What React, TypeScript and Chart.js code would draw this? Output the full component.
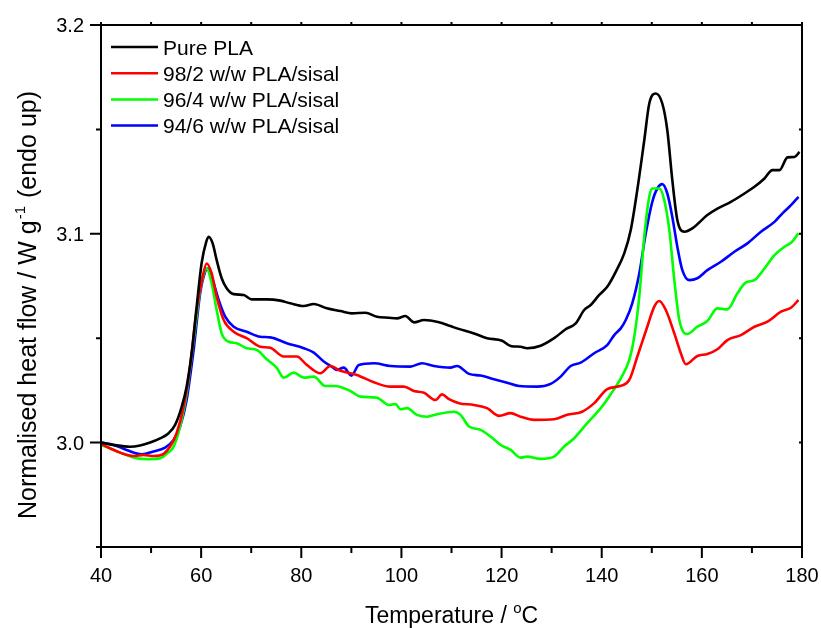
import React, { useEffect, useRef } from "react";
import { Chart, registerables } from "chart.js";

Chart.register(...registerables);

// ---- Data (Temperature in °C, normalised heat flow in W g^-1) ----
const pureT = [40, 42.5, 45.8, 47.8, 49.8, 51.8, 53.5, 54.8, 56.1, 57.1, 58.1, 59.1, 60.1, 61, 61.5, 62.3, 63.1, 64.1, 65.1, 66.5, 68.5, 70.1, 73.1, 75.8, 77.8, 80.5, 82.5, 85.1, 87.8, 90.1, 92.8, 95.1, 97.5, 99.1, 100.8, 102.5, 104.5, 107.5, 109.8, 111.1, 114.5, 117.1, 120.1, 121.8, 123.8, 125.1, 127.8, 130.5, 132.8, 134.8, 136.5, 137.8, 139.5, 141.1, 142.8, 144.5, 145.8, 147.1, 148.5, 149.5, 150.8, 152.1, 153.1, 154.1, 155.1, 156.5, 158.1, 161.1, 163.1, 165.8, 168.5, 170.5, 172.5, 174.1, 175.5, 177.1, 178.5, 179.5];
const pureV = [3.0, 2.9989, 2.998, 2.9986, 3.0, 3.002, 3.0045, 3.0085, 3.017, 3.0268, 3.0428, 3.065, 3.086, 3.096, 3.0986, 3.0954, 3.0874, 3.0787, 3.0739, 3.0711, 3.0707, 3.0686, 3.0686, 3.068, 3.0667, 3.0654, 3.0664, 3.0643, 3.063, 3.0619, 3.0622, 3.0603, 3.0598, 3.0595, 3.0606, 3.0576, 3.0587, 3.0576, 3.0558, 3.0547, 3.0523, 3.05, 3.0488, 3.0463, 3.0459, 3.0452, 3.0464, 3.05, 3.0543, 3.0571, 3.0635, 3.0659, 3.0707, 3.0746, 3.0818, 3.0906, 3.1018, 3.1209, 3.1448, 3.1624, 3.1672, 3.1624, 3.1496, 3.1257, 3.1066, 3.101, 3.1026, 3.109, 3.1121, 3.1153, 3.1193, 3.1225, 3.1265, 3.1305, 3.1305, 3.1366, 3.1368, 3.1392];

const pla2T = [40, 41.8, 43.8, 46.5, 48.5, 50.5, 52.5, 53.8, 55.1, 56.5, 57.8, 59.1, 60.3, 61.1, 62.1, 63.1, 64.5, 66.5, 69.1, 71.8, 73.8, 76.5, 79.1, 81.1, 83.8, 85.8, 87.8, 91.1, 94.5, 97.8, 100.5, 102.5, 104.5, 106.8, 108.1, 109.5, 111.5, 114.5, 117.1, 119.5, 121.8, 123.8, 126.5, 130.5, 133.1, 136.1, 138.5, 141.1, 143.8, 145.5, 147.1, 149.1, 150.5, 151.5, 152.8, 154.5, 155.8, 156.8, 159.1, 161.1, 163.1, 165.1, 167.8, 170.5, 173.1, 175.8, 177.8, 179.3];
const pla2V = [2.9994, 2.9973, 2.9952, 2.9936, 2.9941, 2.9936, 2.9946, 2.9981, 3.0045, 3.0172, 3.0364, 3.0635, 3.0794, 3.0858, 3.081, 3.0699, 3.0587, 3.0531, 3.05, 3.0459, 3.0454, 3.0412, 3.0412, 3.0372, 3.0332, 3.0367, 3.0344, 3.0324, 3.0289, 3.0268, 3.0268, 3.0247, 3.0239, 3.0204, 3.0231, 3.0208, 3.0189, 3.018, 3.0165, 3.0128, 3.0141, 3.0124, 3.0109, 3.0112, 3.0133, 3.0148, 3.0189, 3.0256, 3.0272, 3.03, 3.0411, 3.0555, 3.0651, 3.0678, 3.0635, 3.0523, 3.0428, 3.0375, 3.0415, 3.0424, 3.0447, 3.0491, 3.0515, 3.0555, 3.0579, 3.0627, 3.0646, 3.0683];

const pla4T = [40, 42.5, 45.1, 47.1, 49.8, 51.8, 53.1, 54.5, 55.8, 57.1, 58.5, 59.8, 60.8, 61.1, 62.1, 63.1, 64.1, 65.5, 67.1, 69.1, 71.1, 73.1, 75.1, 76.5, 78.5, 80.5, 82.5, 84.8, 86.8, 89.8, 91.8, 95.1, 97.5, 98.8, 99.8, 101.1, 103.1, 105.1, 107.1, 110.5, 111.8, 113.5, 115.8, 117.8, 119.8, 121.8, 123.8, 125.1, 127.8, 130.5, 132.5, 134.5, 137.1, 139.8, 141.8, 143.8, 145.5, 146.5, 147.5, 148.5, 149.5, 150.1, 151.5, 152.5, 153.5, 154.5, 155.5, 157.1, 159.1, 161.1, 163.1, 165.1, 167.1, 168.8, 170.5, 172.5, 174.5, 176.5, 177.8, 179.3];
const pla4V = [2.9989, 2.9965, 2.9941, 2.9925, 2.9921, 2.9925, 2.9946, 2.9981, 3.0077, 3.0236, 3.0491, 3.0731, 3.0826, 3.0834, 3.0763, 3.0635, 3.0523, 3.0483, 3.0476, 3.0452, 3.0444, 3.0399, 3.0358, 3.0311, 3.0335, 3.0311, 3.0316, 3.0271, 3.0271, 3.0247, 3.022, 3.0215, 3.018, 3.0185, 3.016, 3.0165, 3.0133, 3.0124, 3.0136, 3.0148, 3.0133, 3.0077, 3.0061, 3.0029, 2.9989, 2.9965, 2.9928, 2.9933, 2.9922, 2.9933, 2.9981, 3.0021, 3.0093, 3.0165, 3.0232, 3.0308, 3.0396, 3.0507, 3.0699, 3.0986, 3.1177, 3.1217, 3.1217, 3.1161, 3.1018, 3.0778, 3.0587, 3.052, 3.0555, 3.0582, 3.0643, 3.0638, 3.0715, 3.0767, 3.0778, 3.0834, 3.0898, 3.0938, 3.0957, 3.1002];

const pla6T = [40, 42.5, 45.1, 48.1, 50.5, 52.8, 54.5, 55.8, 57.1, 58.5, 59.8, 60.8, 61.3, 62.1, 63.5, 64.8, 66.5, 69.1, 71.8, 73.8, 77.1, 80.5, 82.5, 84.5, 86.1, 87.1, 88.5, 90, 91.5, 94.5, 97.8, 101.8, 104.1, 106.5, 109.8, 111.1, 113.5, 115.8, 118.5, 121.1, 123.5, 127.1, 129.8, 131.8, 133.8, 135.8, 138.5, 141.1, 142.5, 143.8, 144.8, 146.1, 147.5, 148.8, 150.1, 151.1, 152.1, 153.1, 154.1, 155.1, 156.1, 157.5, 159.1, 161.1, 163.8, 166.5, 169.1, 171.8, 174.5, 176.1, 177.8, 179.3];
const pla6V = [3.0, 2.9989, 2.9965, 2.9944, 2.9957, 2.9976, 3.0013, 3.0077, 3.0204, 3.0444, 3.0715, 3.0818, 3.0834, 3.0794, 3.0683, 3.0603, 3.0555, 3.0531, 3.0507, 3.0504, 3.0476, 3.0452, 3.0431, 3.0388, 3.0364, 3.0348, 3.0359, 3.0321, 3.0372, 3.038, 3.0367, 3.0364, 3.038, 3.0367, 3.0359, 3.0367, 3.0329, 3.0321, 3.0303, 3.0287, 3.0271, 3.0268, 3.0281, 3.0316, 3.0367, 3.0383, 3.0428, 3.0467, 3.0515, 3.0547, 3.0587, 3.0667, 3.081, 3.1002, 3.1153, 3.1217, 3.1238, 3.1193, 3.1081, 3.0938, 3.0826, 3.0778, 3.0787, 3.0826, 3.0866, 3.0914, 3.0954, 3.101, 3.1057, 3.1098, 3.1137, 3.1177];

const seriesLabels = ["Pure PLA", "98/2 w/w PLA/sisal", "96/4 w/w PLA/sisal", "94/6 w/w PLA/sisal"];
const seriesColors = ["#000000", "#ff0000", "#00ff00", "#0000ff"];

const xTickValues = [40, 60, 80, 100, 120, 140, 160, 180];
const xMinorValues = [50, 70, 90, 110, 130, 150, 170];
const yTickValues = [3.0, 3.1, 3.2];
const yTickLabels = ["3.0", "3.1", "3.2"];
const yMinorValues = [2.95, 3.05, 3.15];

const FONT = "'Liberation Sans', Arial, sans-serif";

function toPoints(t: number[], v: number[]) {
  return t.map((x, i) => ({ x, y: v[i] }));
}

const decorPlugin = {
  id: "decor",
  afterDraw(chart: any) {
    const ctx = chart.ctx as CanvasRenderingContext2D;
    const { left, right, top, bottom } = chart.chartArea;
    const xs = chart.scales.x;
    const ys = chart.scales.y;
    ctx.save();
    ctx.strokeStyle = "#000";
    ctx.fillStyle = "#000";
    ctx.lineWidth = 2;
    ctx.lineCap = "butt";
    // frame
    ctx.beginPath();
    ctx.moveTo(left, top - 1);
    ctx.lineTo(left, bottom + 1);
    ctx.moveTo(left - 1, bottom);
    ctx.lineTo(right + 1, bottom);
    ctx.moveTo(left - 1, top);
    ctx.lineTo(right + 1, top);
    ctx.moveTo(right, top - 1);
    ctx.lineTo(right, bottom + 1);
    ctx.stroke();

    // ticks
    ctx.beginPath();
    xTickValues.forEach((v) => {
      const px = xs.getPixelForValue(v);
      ctx.moveTo(px, bottom);
      ctx.lineTo(px, bottom + 11);
      ctx.moveTo(px, top);
      ctx.lineTo(px, top - 3);
    });
    xMinorValues.forEach((v) => {
      const px = xs.getPixelForValue(v);
      ctx.moveTo(px, bottom);
      ctx.lineTo(px, bottom + 6);
      ctx.moveTo(px, top);
      ctx.lineTo(px, top - 3);
    });
    yTickValues.forEach((v) => {
      const py = ys.getPixelForValue(v);
      ctx.moveTo(left, py);
      ctx.lineTo(left - 11, py);
      ctx.moveTo(right, py);
      ctx.lineTo(right - 3, py);
    });
    yMinorValues.forEach((v) => {
      const py = ys.getPixelForValue(v);
      ctx.moveTo(left, py);
      ctx.lineTo(left - 5, py);
      ctx.moveTo(right, py);
      ctx.lineTo(right - 3, py);
    });
    ctx.stroke();

    // tick labels
    ctx.font = `20px ${FONT}`;
    ctx.textBaseline = "alphabetic";
    ctx.textAlign = "center";
    xTickValues.forEach((v) => {
      ctx.fillText(String(v), xs.getPixelForValue(v), 582);
    });
    ctx.textAlign = "right";
    yTickValues.forEach((v, i) => {
      ctx.fillText(yTickLabels[i], 84, ys.getPixelForValue(v) + 7.2);
    });

    // x title with superscript
    ctx.textAlign = "left";
    const xMain = "Temperature / ";
    const xSup = "o";
    const xEnd = "C";
    ctx.font = `23px ${FONT}`;
    const w1 = ctx.measureText(xMain).width;
    const w3 = ctx.measureText(xEnd).width;
    ctx.font = `15px ${FONT}`;
    const w2 = ctx.measureText(xSup).width;
    const xTot = w1 + w2 + w3;
    let cx = (left + right) / 2 - xTot / 2;
    const xBase = 623;
    ctx.font = `23px ${FONT}`;
    ctx.fillText(xMain, cx, xBase);
    cx += w1;
    ctx.font = `15px ${FONT}`;
    ctx.fillText(xSup, cx, xBase - 10);
    cx += w2;
    ctx.font = `23px ${FONT}`;
    ctx.fillText(xEnd, cx, xBase);

    // y title rotated
    const yA = "Normalised heat flow / W g";
    const yS = "-1";
    const yB = " (endo up)";
    ctx.font = `25px ${FONT}`;
    const a = ctx.measureText(yA).width;
    const b = ctx.measureText(yB).width;
    ctx.font = `15px ${FONT}`;
    const s = ctx.measureText(yS).width + 2;
    const yTot = a + s + b;
    ctx.save();
    ctx.translate(36, 305);
    ctx.rotate(-Math.PI / 2);
    let tx = -yTot / 2;
    ctx.font = `25px ${FONT}`;
    ctx.fillText(yA, tx, 0);
    tx += a + 1;
    ctx.font = `15px ${FONT}`;
    ctx.fillText(yS, tx, -11);
    tx += s - 1;
    ctx.font = `25px ${FONT}`;
    ctx.fillText(yB, tx, 0);
    ctx.restore();

    // legend
    const rows = [47, 73.2, 99.4, 125.6];
    ctx.font = `21px ${FONT}`;
    ctx.textAlign = "left";
    seriesLabels.forEach((lab, i) => {
      ctx.strokeStyle = seriesColors[i];
      ctx.lineWidth = 2.5;
      ctx.beginPath();
      ctx.moveTo(111, rows[i]);
      ctx.lineTo(158, rows[i]);
      ctx.stroke();
      ctx.fillStyle = "#000";
      ctx.fillText(lab, 163, rows[i] + 7.5);
    });
    ctx.restore();
  },
};

export default function App() {
  const ref = useRef<HTMLCanvasElement | null>(null);
  useEffect(() => {
    if (!ref.current) return;
    const seriesT = [pureT, pla2T, pla4T, pla6T];
    const seriesV = [pureV, pla2V, pla4V, pla6V];
    const chart = new Chart(ref.current, {
      type: "line",
      data: {
        datasets: seriesLabels.map((label, i) => ({
          label,
          data: toPoints(seriesT[i], seriesV[i]),
          borderColor: seriesColors[i],
          backgroundColor: seriesColors[i],
          borderWidth: 2.6,
          pointRadius: 0,
          fill: false,
          cubicInterpolationMode: "monotone" as const,
        })),
      },
      options: {
        responsive: false,
        animation: false,
        events: [],
        layout: { padding: { top: 25, right: 19, left: 0, bottom: 0 } },
        plugins: {
          legend: { display: false },
          tooltip: { enabled: false },
        },
        scales: {
          x: {
            type: "linear",
            min: 40,
            max: 180,
            ticks: { display: false },
            grid: { display: false },
            border: { display: false },
            afterFit: (s: any) => {
              s.height = 81;
            },
          },
          y: {
            type: "linear",
            min: 2.95,
            max: 3.2,
            ticks: { display: false },
            grid: { display: false },
            border: { display: false },
            afterFit: (s: any) => {
              s.width = 101;
            },
          },
        },
      },
      plugins: [decorPlugin],
    });
    return () => chart.destroy();
  }, []);
  return (
    <div style={{ position: "absolute", left: 0, top: 0, width: 821, height: 628, background: "#fff" }}>
      <canvas ref={ref} width={821} height={628} style={{ display: "block" }} />
    </div>
  );
}
